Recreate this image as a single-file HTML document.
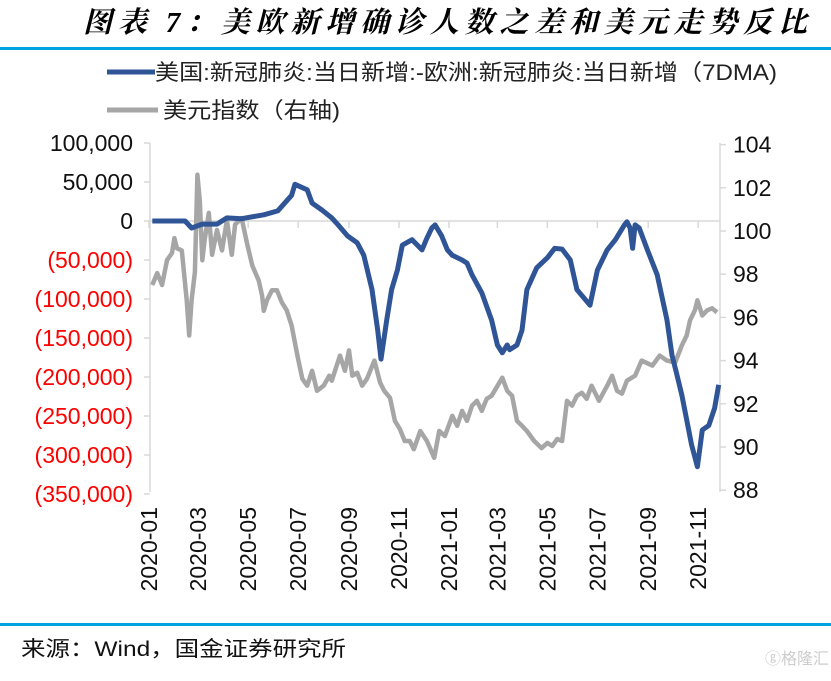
<!DOCTYPE html>
<html><head><meta charset="utf-8">
<style>
body{margin:0;background:#fff;width:831px;height:676px;overflow:hidden;font-family:"Liberation Sans","Noto Sans CJK SC",sans-serif;}
</style></head>
<body>
<svg id="chart" width="831" height="676" xmlns="http://www.w3.org/2000/svg">
<text x="83" y="32" font-size="29" font-weight="bold" font-style="italic" font-family="'Liberation Serif','Noto Serif CJK SC',serif" textLength="724">图表 7：美欧新增确诊人数之差和美元走势反比</text>
<rect x="0" y="47" width="831" height="3" fill="#00A3E0"/>
<g>
<g>
<line x1="107" y1="72" x2="155" y2="72" stroke="#2F5597" stroke-width="5"/>
<text x="155" y="80" font-size="22" fill="#222" textLength="622" lengthAdjust="spacingAndGlyphs">美国:新冠肺炎:当日新增:-欧洲:新冠肺炎:当日新增（7DMA)</text>
</g>
<g>
<line x1="107" y1="110" x2="158" y2="110" stroke="#A6A6A6" stroke-width="5"/>
<text x="163" y="118" font-size="22" fill="#222" textLength="177" lengthAdjust="spacingAndGlyphs">美元指数（右轴)</text>
</g>
</g>
<g id="axes"></g>
<g id="series"></g>
<rect x="0" y="623" width="831" height="3" fill="#00A3E0"/>
<text x="21" y="656" font-size="21" fill="#111" textLength="325" lengthAdjust="spacingAndGlyphs">来源：Wind，国金证券研究所</text>
<text x="765" y="664" font-size="16" fill="#ccc">ⓖ格隆汇</text>
</svg>
<script>
// Left axis ticks (thousands) and right axis ticks
const leftTicks=[100,50,0,-50,-100,-150,-200,-250,-300,-350];
const leftLabels=["100,000","50,000","0","(50,000)","(100,000)","(150,000)","(200,000)","(250,000)","(300,000)","(350,000)"];
const rightTicks=[104,102,100,98,96,94,92,90,88];
const xLabels=["2020-01","2020-03","2020-05","2020-07","2020-09","2020-11","2021-01","2021-03","2021-05","2021-07","2021-09","2021-11"];
const xLabelDays=[0,60,121,182,244,305,366,425,486,547,609,670];
// Series 1: US minus Europe new cases (thousands), days since 2020-01-01
const diffDays=[4,44,52,65,83,95,113,140,157,174,178,193,199,211,223,229,242,254,262,272,279,283,290,296,303,309,321,333,339,345,349,357,364,370,382,388,394,406,418,425,431,437,440,449,455,461,473,486,495,504,514,522,538,547,559,569,580,583,587,590,593,598,608,620,632,638,644,650,662,669,675,683,690,695];
const diffValues=[0,0,-9,-4,-4,4,3,8,13,33,47,40,23,14,4,-3,-19,-28,-44,-88,-140,-177,-127,-88,-63,-31,-24,-37,-22,-9,-5,-19,-37,-44,-50,-54,-69,-92,-127,-159,-169,-159,-165,-159,-140,-88,-60,-47,-35,-36,-50,-88,-108,-63,-37,-24,-5,-1,-9,-35,-5,-9,-37,-69,-127,-172,-197,-223,-287,-315,-268,-262,-240,-210];
// Series 2: US dollar index (right axis)
const dxyDays=[4,10,16,22,28,31,34,40,46,49,52,56,59,62,65,68,73,77,83,89,95,101,105,113,120,126,134,138,140,144,150,156,162,168,174,181,187,193,199,205,213,220,223,229,233,239,244,248,254,260,266,275,282,287,294,300,306,312,318,323,331,339,348,354,361,370,376,382,388,394,400,406,412,418,431,437,443,449,455,461,470,479,486,492,498,504,510,516,522,528,534,540,549,559,565,571,577,583,593,601,614,623,632,642,650,656,660,666,669,675,681,687,693];
const dxyValues=[97.5,98.05,97.5,98.65,98.98,99.67,99.2,99.1,96.8,95.16,96.8,98.1,102.6,101.4,98.65,99.6,100.84,98.9,100.05,99.1,100.5,98.9,100.3,100.6,99.35,98.4,97.7,97.0,96.3,96.8,97.26,97.26,96.7,96.33,95.63,94.23,93.16,92.84,93.53,92.6,92.84,93.3,93.07,93.77,94.23,93.53,94.47,93.3,93.44,92.84,93.16,94.0,92.98,92.6,92.28,91.21,90.84,90.28,90.28,89.9,90.74,90.28,89.5,90.74,90.51,91.44,90.98,91.67,91.21,91.91,92.14,91.67,92.23,92.37,93.21,92.6,92.37,91.21,90.98,90.74,90.28,89.95,90.19,90.05,90.37,90.28,92.14,91.91,92.37,92.51,92.23,92.84,92.14,92.84,93.3,92.6,92.47,93.07,93.3,94.0,93.77,94.23,94.0,93.91,94.7,95.16,95.86,96.33,96.79,96.09,96.33,96.42,96.23];

const NS="http://www.w3.org/2000/svg";
const X0=149, PXD=50/61, LX=150, RX=720;
const xs=d=>X0+d*PXD;
const yL=v=>221-v*0.78;
const yR=v=>231-(v-100)*21.6;
const axes=document.getElementById('axes'), ser=document.getElementById('series');
function mk(tag,attrs,parent){const e=document.createElementNS(NS,tag);for(const k in attrs)e.setAttribute(k,attrs[k]);parent.appendChild(e);return e;}

let e=mk('line',{x1:LX,y1:143,x2:LX,y2:492,stroke:'#D9D9D9','stroke-width':1.5},axes);


e=mk('line',{x1:RX,y1:143,x2:RX,y2:492,stroke:'#D9D9D9','stroke-width':1.5},axes);


e=mk('line',{x1:LX,y1:yL(0),x2:RX,y2:yL(0),stroke:'#D9D9D9','stroke-width':1.5},axes);



leftTicks.forEach((v,i)=>{
  mk('line',{x1:LX-6,y1:yL(v),x2:LX,y2:yL(v),stroke:'#D9D9D9','stroke-width':1.5},axes);
  const t=mk('text',{x:133,y:yL(v)+8,'font-size':23,'text-anchor':'end',fill:v<0?'#FF0000':'#111'},axes);
  t.textContent=leftLabels[i];
  
  
});
rightTicks.forEach(v=>{
  mk('line',{x1:RX,y1:yR(v),x2:RX+6,y2:yR(v),stroke:'#D9D9D9','stroke-width':1.5},axes);
  const t=mk('text',{x:733,y:yR(v)+8,'font-size':23,fill:'#111'},axes);
  t.textContent=v;
  
  
});
xLabels.forEach((l,i)=>{
  const x=xs(xLabelDays[i]);
  mk('line',{x1:x,y1:yL(0),x2:x,y2:yL(0)+7,stroke:'#D9D9D9','stroke-width':1.5},axes);
  const t=mk('text',{x:0,y:0,'font-size':23,fill:'#111','text-anchor':'end',transform:`translate(${x+8},${507}) rotate(-90)`},axes);
  t.textContent=l;
  
  
});

const gp=mk('polyline',{points:dxyDays.map((d,i)=>xs(d).toFixed(1)+','+yR(dxyValues[i]).toFixed(1)).join(' '),fill:'none',stroke:'#A6A6A6','stroke-width':4.5,'stroke-linejoin':'round'},ser);


const bp=mk('polyline',{points:diffDays.map((d,i)=>xs(d).toFixed(1)+','+yL(diffValues[i]).toFixed(1)).join(' '),fill:'none',stroke:'#2F5597','stroke-width':5,'stroke-linejoin':'round'},ser);


</script>
</body></html>
